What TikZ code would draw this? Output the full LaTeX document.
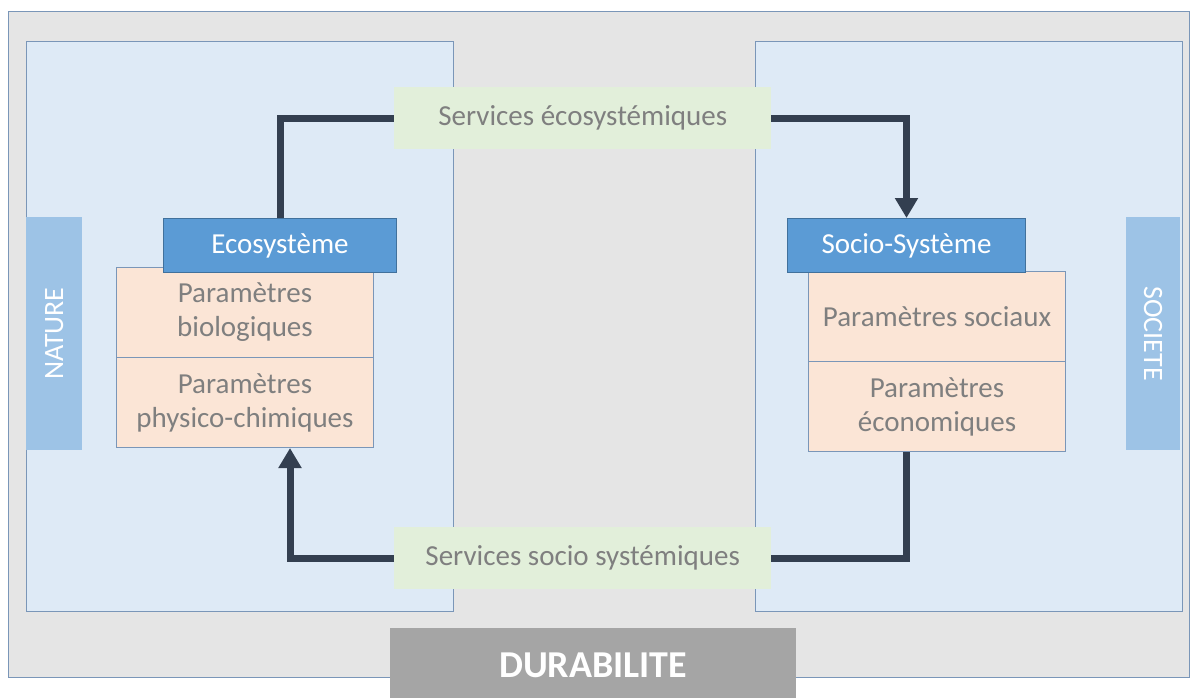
\documentclass[tikz,border=0pt]{standalone}
\usepackage{fontspec}
\setmainfont{Carlito}
\usetikzlibrary{arrows.meta}
\definecolor{frameblue}{HTML}{7A96B8}
\definecolor{backgrey}{HTML}{E5E5E5}
\definecolor{panelblue}{HTML}{DEEAF6}
\definecolor{barblue}{HTML}{9DC3E6}
\definecolor{headblue}{HTML}{5B9BD5}
\definecolor{headedge}{HTML}{41719C}
\definecolor{paramfill}{HTML}{FBE5D6}
\definecolor{servgreen}{HTML}{E2EFDA}
\definecolor{textgrey}{HTML}{7F7F7F}
\definecolor{linkdark}{HTML}{333F50}
\definecolor{durgrey}{HTML}{A5A5A5}
\tikzset{
  panel/.style={draw=frameblue, fill=panelblue, line width=1pt},
  sidebar/.style={fill=barblue, inner sep=0pt, minimum width=55, minimum height=233},
  sidetext/.style={text=white, font=\fontsize{28}{34}\selectfont},
  header/.style={draw=headedge, fill=headblue, text=white, line width=1pt, minimum width=233, minimum height=54, inner sep=0pt, font=\fontsize{29}{35}\selectfont},
  param/.style={draw=frameblue, fill=paramfill, text=textgrey, line width=1pt, minimum width=257, minimum height=90, inner sep=0pt, align=center, font=\fontsize{29}{34}\selectfont},
  service/.style={fill=servgreen, text=textgrey, minimum width=377, minimum height=62, inner sep=0pt, font=\fontsize{29}{35}\selectfont},
  link/.style={draw=linkdark, line width=7pt},
  linkarrow/.style={link, -{Triangle[length=20pt, width=22pt]}}
}
\begin{document}
\begin{tikzpicture}[x=1pt, y=-1pt]
  \useasboundingbox (0, 0) rectangle (1190, 697);
  % background and panels
  \draw[draw=frameblue, fill=backgrey, line width=1pt] (8, 11) rectangle (1189, 677);
  \draw[panel] (26, 41) rectangle (453, 611);
  \draw[panel] (755, 41) rectangle (1182, 611);
  \node[sidebar, anchor=north west, minimum width=56] (nature) at (26, 217) {};
  \node[sidetext, rotate=90] at (nature.center) {NATURE};
  \node[sidebar, anchor=north west, minimum width=54] (societe) at (1126, 217) {};
  \node[sidetext, rotate=-90] at (societe.center) {SOCIETE};
  % parameter blocks
  \node[param, anchor=north west] (bio) at (116, 267) {Paramètres\\biologiques};
  \node[param, anchor=north west] (phys) at (116, 357) {Paramètres\\physico-chimiques};
  \node[param, anchor=north west] (soc) at (808, 271) {Paramètres sociaux};
  \node[param, anchor=north west] (econ) at (808, 361) {Paramètres\\économiques};
  \node[header, anchor=north west] (eco) at (163, 218) {Ecosystème};
  \node[header, anchor=north west, minimum width=238] (socio) at (787, 218) {Socio-Système};
  % services
  \node[service, anchor=north west] (seco) at (394, 87) {Services écosystémiques};
  \node[service, anchor=north west] (ssocio) at (394, 527) {Services socio systémiques};
  \node[fill=durgrey, text=white, anchor=north west, minimum width=406, minimum height=75, inner sep=0pt, font=\fontsize{38}{44}\selectfont\bfseries] (durab) at (390, 628) {DURABILITE};
  % connectors
  \draw[link] (eco.north) |- (seco.west);
  \draw[linkarrow] (seco.east) -| (socio.north);
  \draw[link] (socio.north |- econ.south) |- (ssocio.east);
  \draw[linkarrow] (ssocio.west) -| ([xshift=45]phys.south);
\end{tikzpicture}
\end{document}
